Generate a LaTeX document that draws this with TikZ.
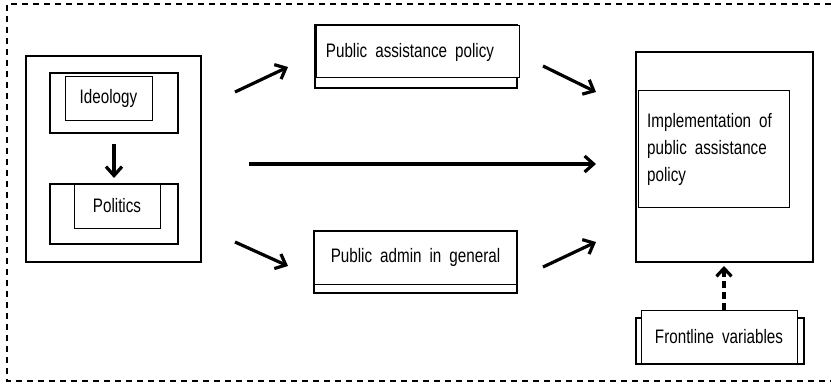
\documentclass[tikz,border=0pt]{standalone}
\usepackage{fontspec}
\setmainfont{Liberation Sans}
\newfontfamily\narrowfont[FakeStretch=0.78]{Liberation Sans}
\usetikzlibrary{arrows.meta}
\begin{document}
\begin{tikzpicture}[x=1pt,y=-1pt,
  thickbox/.style={draw,line width=2.2pt,inner sep=0pt},
  thinbox/.style={draw,line width=0.9pt,fill=white,inner sep=0pt},
  txt/.style={font=\narrowfont\fontsize{19.5}{27}\selectfont,execute at begin node={\spaceskip=8pt plus 1pt\relax},inner sep=0pt},
  arr/.style={line width=3.2pt,-{Straight Barb[length=9pt,width=16pt,line width=3.2pt]}},
  darr/.style={line width=3.2pt,dash pattern=on 7pt off 4pt,-{Straight Barb[length=8pt,width=15pt,line width=3.2pt]}}]
\useasboundingbox (0,0) rectangle (831,385);
\draw[line width=1.3pt,dash pattern=on 6pt off 5pt] (831,4) -- (7,4) -- (7,381) -- (831,381);

% left group
\node[thickbox,minimum width=175pt,minimum height=206pt] (left) at (113.5,159) {};
\node[thickbox,minimum width=128pt,minimum height=60pt] (ideoOut) at (114,103) {};
\node[thinbox,minimum width=87pt,minimum height=44pt,txt] (ideo) at (108.5,98) {Ideology};
\node[thickbox,minimum width=128pt,minimum height=60pt] (polOut) at (114,214) {};
\node[thinbox,minimum width=86pt,minimum height=44pt,txt] (pol) at (117,206) {Politics};
\coordinate (d1) at (114,144);
\coordinate (d2) at (114,178);
\draw[arr] (d1) -- (d2);

% public assistance policy
\node[thickbox,minimum width=202pt,minimum height=63pt] (papOut) at (416,56.5) {};
\node[thinbox,minimum width=203pt,minimum height=52pt] (pap) at (417.5,51) {};
\node[txt] (papT) at (410,52) {Public assistance policy};

% public admin in general
\node[thickbox,minimum width=203pt,minimum height=62pt] (pagOut) at (415.5,262) {};
\node[draw,line width=0.9pt,inner sep=0pt,minimum width=203pt,minimum height=53pt,txt] (pag) at (415.5,257.5) {Public admin in general};

% implementation
\node[thickbox,minimum width=177pt,minimum height=210pt] (implOut) at (724.5,157) {};
\node[thinbox,minimum width=151pt,minimum height=117pt] (impl) at (713.5,148.5) {};
\node[txt,align=left,anchor=west] (implT) at (647,149) {Implementation of\\public assistance\\policy};

% frontline
\node[thickbox,minimum width=168pt,minimum height=46pt] (frontOut) at (720,341) {};
\node[thinbox,minimum width=156pt,minimum height=53pt,txt] (front) at (719,336.5) {Frontline variables};

% arrows
\coordinate (a1s) at (235,92);  \coordinate (a1e) at (288,67);
\coordinate (a2s) at (235,242); \coordinate (a2e) at (288,266);
\coordinate (a3s) at (249,164); \coordinate (a3e) at (596,164);
\coordinate (a4s) at (543,66);  \coordinate (a4e) at (596,92);
\coordinate (a5s) at (543,267); \coordinate (a5e) at (596,242);
\coordinate (f1) at (724,310);
\coordinate (f2) at (724,266);
\draw[arr] (a1s) -- (a1e);
\draw[arr] (a2s) -- (a2e);
\draw[arr] (a3s) -- (a3e);
\draw[arr] (a4s) -- (a4e);
\draw[arr] (a5s) -- (a5e);
\draw[darr] (f1) -- (f2);
\end{tikzpicture}
\end{document}
